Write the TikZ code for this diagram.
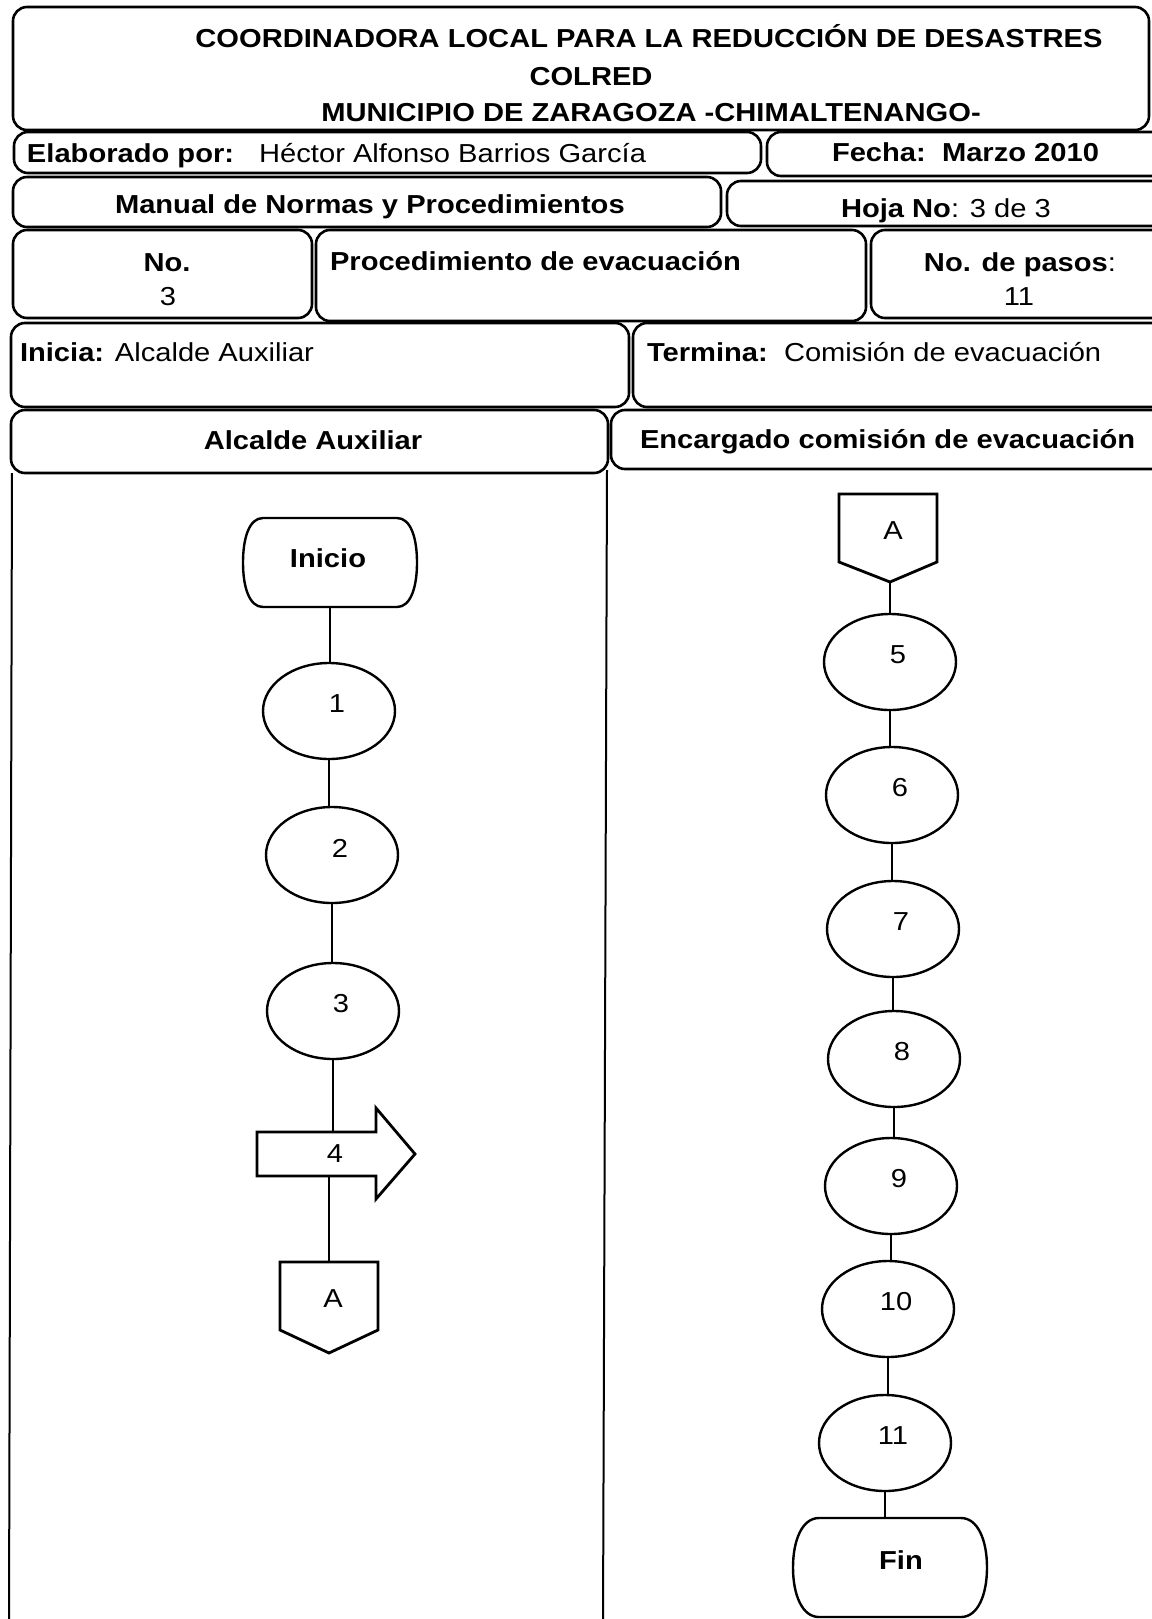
\documentclass[tikz,border=0pt]{standalone}
\usepackage{fontspec}
\setmainfont{Liberation Sans}[FakeStretch=1.12]
\usetikzlibrary{shapes.geometric,calc}
\begin{document}
\begin{tikzpicture}[x=1pt,y=-1pt,
  every node/.style={font=\fontsize{26}{31}\selectfont, inner sep=0pt, outer sep=0pt},
  frame/.style={draw, line width=2.6pt, rounded corners=14pt},
  lane/.style={draw, line width=2pt},
  stepell/.style={ellipse, draw, line width=2.4pt, minimum width=132pt, minimum height=96pt},
  numlab/.style={xshift=8pt, yshift=7pt},
  termline/.style={draw, line width=2.4pt},
  link/.style={line width=1.8pt},
  outline/.style={draw, line width=2.8pt, line join=miter},
  helper/.style={draw=none, rectangle}
]
\useasboundingbox (0,0) rectangle (1151,1619);
\fill[white] (0,0) rectangle (1151,1619);

% header table
\draw[frame] (13,7) rectangle (1149,130);
\draw[frame] (14,132) rectangle (761,173);
\draw[frame] (767,132) rectangle (1175,176);
\draw[frame] (13,177) rectangle (721,227);
\draw[frame] (727,181) rectangle (1175,226);
\draw[frame] (13,230) rectangle (312,318);
\draw[frame] (316,230) rectangle (866,321);
\draw[frame] (871,230) rectangle (1175,318);
\draw[frame] (11,323) rectangle (629,407);
\draw[frame] (633,323) rectangle (1175,407);
\draw[frame] (11,410) rectangle (608,473);
\draw[frame] (611,410) rectangle (1175,469);

\node[anchor=base] (t1) at (649,47.5) {\textbf{COORDINADORA LOCAL PARA LA REDUCCIÓN DE DESASTRES}};
\node[anchor=base] (t2) at (591,85) {\textbf{COLRED}};
\node[anchor=base] (t3) at (651,121) {\textbf{MUNICIPIO DE ZARAGOZA -CHIMALTENANGO-}};

\node[anchor=base west] (elab) at (27,162.5) {\textbf{Elaborado por:}};
\node[anchor=base east] (autor) at (646,162.5) {Héctor Alfonso Barrios García};
\node[anchor=base west] (fecha) at (832,161.5) {\textbf{Fecha:\ \ Marzo 2010}};
\node[anchor=base west] (manual) at (115,213.5) {\textbf{Manual de Normas y Procedimientos}};
\node[anchor=base west] (hoja) at (841,217) {\textbf{Hoja No}: 3 de 3};
\node[anchor=base] (no) at (167,271) {\textbf{No.}};
\node[anchor=base] (no3) at (168,305) {3};
\node[anchor=base west] (proc) at (330,270) {\textbf{Procedimiento de evacuación}};
\node[anchor=base east] (pasos) at (1116,271.5) {\textbf{No. de pasos}:};
\node[anchor=base] (pasos11) at (1019,305) {11};
\node[anchor=base west] (inicia) at (20,361.5) {\textbf{Inicia:} Alcalde Auxiliar};
\node[anchor=base west] (termina) at (647,361.5) {\textbf{Termina:}\ \ Comisión de evacuación};
\node[anchor=base] (lane1) at (313,449.5) {\textbf{Alcalde Auxiliar}};
\node[anchor=base west] (lane2) at (640,448) {\textbf{Encargado comisión de evacuación}};

% swimlane lines
\draw[lane] (12,473) -- (9,1625);
\draw[lane] (607,470) -- (603,1625);

% left lane flow
\node[helper, minimum width=174pt, minimum height=89pt,
  label={[xshift=-2pt,yshift=4pt]center:\textbf{Inicio}}] (inicio) at (330,562.5) {};
\draw[termline, shift={(inicio.center)}] (-67,-44.5) -- (67,-44.5)
  .. controls (81,-44.5) and (87,-24) .. (87,0)
  .. controls (87,24) and (81,44.5) .. (67,44.5) -- (-67,44.5)
  .. controls (-81,44.5) and (-87,24) .. (-87,0)
  .. controls (-87,-24) and (-81,-44.5) .. (-67,-44.5) -- cycle;
\node[stepell, label={[numlab]center:1}] (e1) at (329,711) {};
\node[stepell, label={[numlab]center:2}] (e2) at (332,855) {};
\node[stepell, label={[numlab]center:3}] (e3) at (333,1011) {};

\node[helper, minimum width=119pt, minimum height=44pt] (arr) at (316.5,1154) {};
\coordinate (tip4) at (415,1154);
\draw[outline] (arr.north west) -- (arr.north east) -- ++(0,-24) -- (tip4)
  -- ($(arr.south east)+(0,23)$) -- (arr.south east) -- (arr.south west) -- cycle;
\node (n4) at (335,1154) {4};

\node[helper, minimum width=98pt, minimum height=68pt] (a1) at (329,1296) {};
\coordinate (a1tip) at (329,1353);
\draw[outline] (a1.north west) -- (a1.north east) -- (a1.south east) -- (a1tip) -- (a1.south west) -- cycle;
\node (a1t) at (333,1299) {A};

\draw[link] (inicio.south) -- (inicio.south |- e1.north);
\draw[link] (e1.south) -- (e1.south |- e2.north);
\draw[link] (e2.south) -- (e2.south |- e3.north);
\draw[link] (e3.south) -- (e3.south |- arr.north);
\draw[link] (a1.north |- arr.south) -- (a1.north);

% right lane flow
\node[helper, minimum width=98pt, minimum height=68pt] (a2) at (888,528) {};
\coordinate (a2tip) at (890,582);
\draw[outline] (a2.north west) -- (a2.north east) -- (a2.south east) -- (a2tip) -- (a2.south west) -- cycle;
\node (a2t) at (893,531) {A};

\node[stepell, label={[numlab]center:5}] (e5) at (890,662) {};
\node[stepell, label={[numlab]center:6}] (e6) at (892,795) {};
\node[stepell, label={[numlab]center:7}] (e7) at (893,929) {};
\node[stepell, label={[numlab]center:8}] (e8) at (894,1059) {};
\node[stepell, label={[numlab]center:9}] (e9) at (891,1186) {};
\node[stepell, label={[numlab]center:10}] (e10) at (888,1309) {};
\node[stepell, label={[numlab]center:11}] (e11) at (885,1443) {};
\node[helper, minimum width=194pt, minimum height=99pt,
  label={[xshift=11pt,yshift=7pt]center:\textbf{Fin}}] (fin) at (890,1567.5) {};
\draw[termline, shift={(fin.center)}] (-71,-49.5) -- (71,-49.5)
  .. controls (88,-49.5) and (97,-27) .. (97,0)
  .. controls (97,27) and (88,49.5) .. (71,49.5) -- (-71,49.5)
  .. controls (-88,49.5) and (-97,27) .. (-97,0)
  .. controls (-97,-27) and (-88,-49.5) .. (-71,-49.5) -- cycle;

\draw[link] (a2tip) -- (a2tip |- e5.north);
\draw[link] (e5.south) -- (e5.south |- e6.north);
\draw[link] (e6.south) -- (e6.south |- e7.north);
\draw[link] (e7.south) -- (e7.south |- e8.north);
\draw[link] (e8.south) -- (e8.south |- e9.north);
\draw[link] (e9.south) -- (e9.south |- e10.north);
\draw[link] (e10.south) -- (e10.south |- e11.north);
\draw[link] (e11.south) -- (e11.south |- fin.north);
\end{tikzpicture}
\end{document}
